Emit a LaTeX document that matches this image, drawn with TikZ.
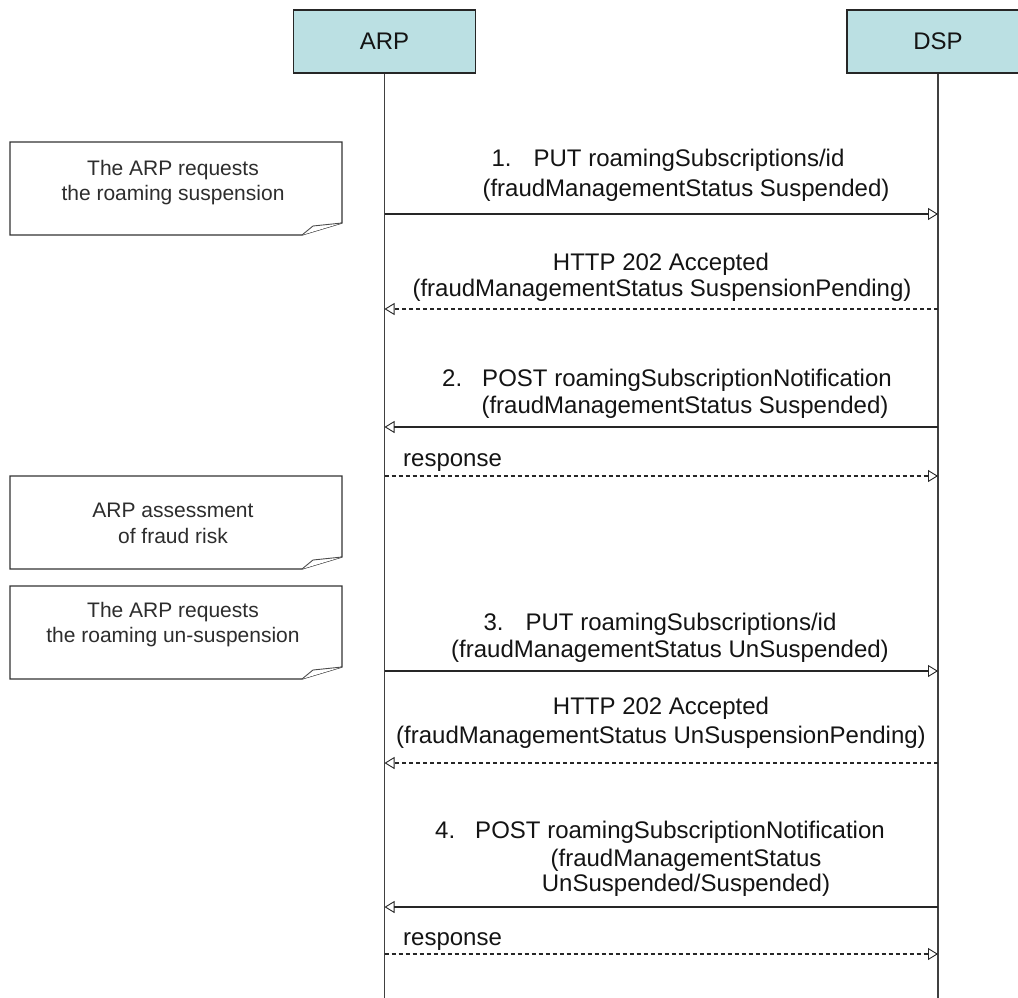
\documentclass[tikz,border=0pt]{standalone}
\usepackage{fontspec}
\setmainfont{Liberation Sans}
\usetikzlibrary{arrows.meta}
\definecolor{boxfill}{RGB}{187,224,227}
\definecolor{txt}{RGB}{20,20,20}
\definecolor{notetxt}{RGB}{45,45,45}
\newcommand\drawnote[2]{%
  \draw[notebox] (10,#1) -- (342,#1) -- (342,#2-12) -- (302,#2) -- (10,#2) -- cycle;
  \draw[notefold] (302,#2) -- (313,#2-9) -- (342,#2-12);
}
\begin{document}
\begin{tikzpicture}[x=1pt,y=-1pt,
  actor/.style={draw=black!85, line width=1.3pt, fill=boxfill, minimum width=182pt, minimum height=63pt, inner sep=0, font=\fontsize{24}{28}\selectfont, text=txt},
  life/.style={draw=black!75, line width=1.3pt},
  tip/.style={-{Triangle[open,length=10pt,width=12pt,line width=0.9pt]}},
  msg/.style={tip, line width=1.9pt, draw=black!85},
  reply/.style={tip, line width=1.3pt, draw=black!85, dash pattern=on 4pt off 3pt},
  lbl/.style={font=\fontsize{24}{28}\selectfont, text=txt, inner sep=0, anchor=base},
  notebox/.style={draw=black!80, line width=1.2pt, fill=white, line join=miter},
  notefold/.style={draw=black!70, line width=0.9pt, fill=white},
  notetext/.style={font=\fontsize{21}{25}\selectfont, text=notetxt, inner sep=0, anchor=base},
]
\clip (0,0) rectangle (1018,998);
\fill[white] (0,0) rectangle (1018,998);

% actors
\node[actor] (arp) at (384.5,41.5) {ARP};
\node[actor] (dsp) at (938,41.5) {DSP};
\coordinate (arpEnd) at (384.5,998);
\coordinate (dspEnd) at (938,998);
\draw[life] (arp.south) -- (arpEnd);
\draw[life] (dsp.south) -- (dspEnd);

% notes
\drawnote{142}{235}
\node[notetext] (n1a) at (173,175) {The ARP requests};
\node[notetext] (n1b) at (173,200) {the roaming suspension};
\drawnote{476}{569}
\node[notetext] (n2a) at (173,517) {ARP assessment};
\node[notetext] (n2b) at (173,543) {of fraud risk};
\drawnote{586}{679}
\node[notetext] (n3a) at (173,617) {The ARP requests};
\node[notetext] (n3b) at (173,642) {the roaming un-suspension};

% message 1
\coordinate (a1) at (384.5,214); \coordinate (d1) at (938,214);
\draw[msg] (a1) -- (d1);
\node[lbl] (m1a) at (668,166) {1.\hspace{22pt}PUT roamingSubscriptions/id};
\node[lbl] (m1b) at (686,196) {(fraudManagementStatus Suspended)};

% reply 1
\coordinate (a2) at (384.5,309); \coordinate (d2) at (938,309);
\draw[reply] (d2) -- (a2);
\node[lbl] (r1a) at (661,270) {HTTP 202 Accepted};
\node[lbl] (r1b) at (662,296) {(fraudManagementStatus SuspensionPending)};

% message 2
\coordinate (a3) at (384.5,427); \coordinate (d3) at (938,427);
\draw[msg] (d3) -- (a3);
\node[lbl] (m2a) at (667,386) {2.\hspace{20pt}POST roamingSubscriptionNotification};
\node[lbl] (m2b) at (685,413) {(fraudManagementStatus Suspended)};

% response 1
\coordinate (a4) at (384.5,476); \coordinate (d4) at (938,476);
\draw[reply] (a4) -- (d4);
\node[lbl, anchor=base west] (s1) at (403,466) {response};

% message 3
\coordinate (a5) at (384.5,671); \coordinate (d5) at (938,671);
\draw[msg] (a5) -- (d5);
\node[lbl] (m3a) at (660,630) {3.\hspace{22pt}PUT roamingSubscriptions/id};
\node[lbl] (m3b) at (670,657) {(fraudManagementStatus UnSuspended)};

% reply 2
\coordinate (a6) at (384.5,763); \coordinate (d6) at (938,763);
\draw[reply] (d6) -- (a6);
\node[lbl] (r2a) at (661,714) {HTTP 202 Accepted};
\node[lbl] (r2b) at (661,743) {(fraudManagementStatus UnSuspensionPending)};

% message 4
\coordinate (a7) at (384.5,907); \coordinate (d7) at (938,907);
\draw[msg] (d7) -- (a7);
\node[lbl] (m4a) at (660,838) {4.\hspace{20pt}POST roamingSubscriptionNotification};
\node[lbl] (m4b) at (686,866) {(fraudManagementStatus};
\node[lbl] (m4c) at (686,891) {UnSuspended/Suspended)};

% response 2
\coordinate (a8) at (384.5,954); \coordinate (d8) at (938,954);
\draw[reply] (a8) -- (d8);
\node[lbl, anchor=base west] (s2) at (403,945) {response};
\end{tikzpicture}
\end{document}
